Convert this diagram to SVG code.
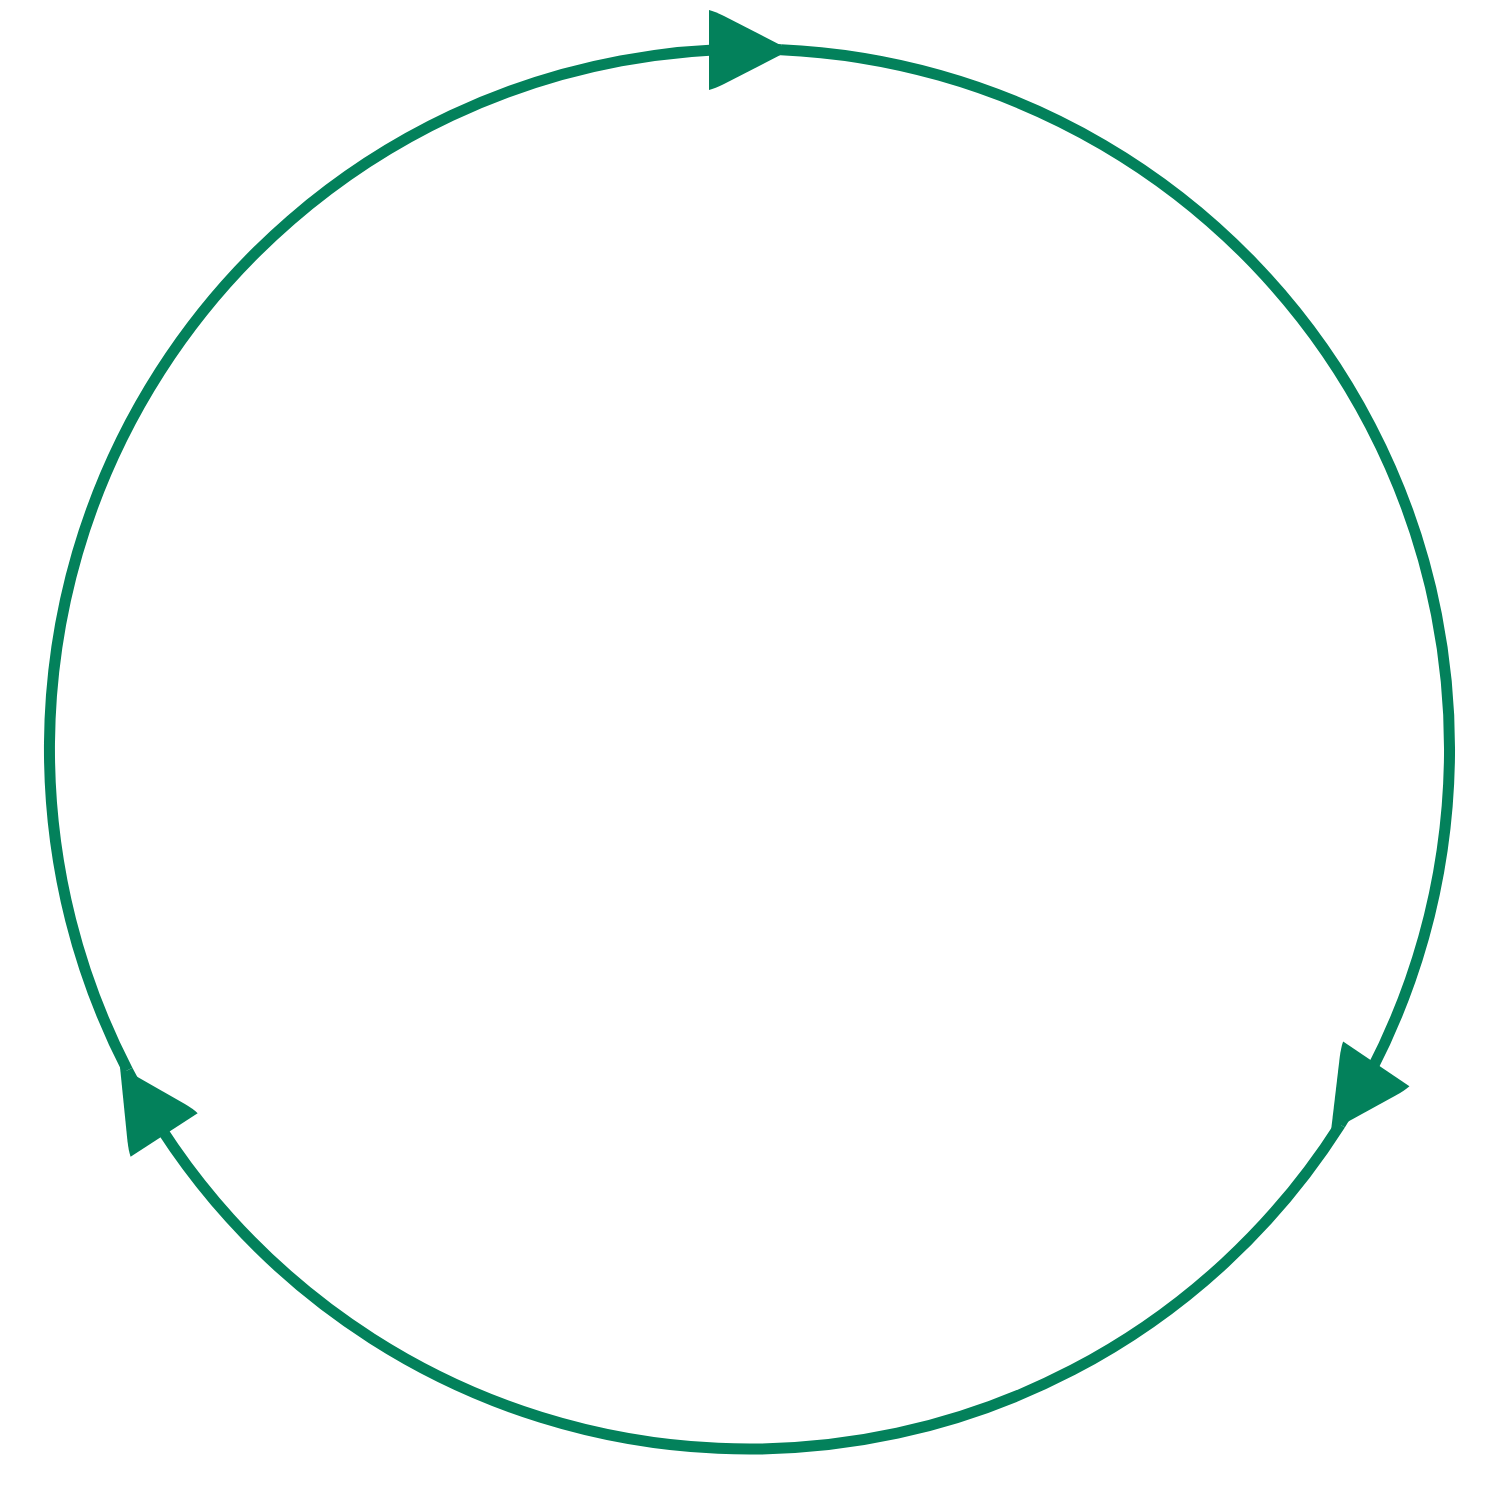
<svg xmlns="http://www.w3.org/2000/svg" xmlns:xlink="http://www.w3.org/1999/xlink" width="1500" height="1500" viewBox="0 0 1500 1500">
  <style>
    .edge { fill: none; stroke: #03815B; stroke-width: 11; }
    .head { fill: #03815B; stroke: none; }
  </style>
  <defs>
    <path id="arrowhead" class="head" d="M0,0 L-66,-34 Q-75,-38.5 -81,-40 L-81,40 Q-75,38.5 -66,34 Z"/>
  </defs>
  <rect width="1500" height="1500" fill="#ffffff"/>
  <g id="connectors">
    <path id="arc-1" class="edge" d="M127.5,1070.2 A700,700 0 0 1 781,49.7"/>
    <path id="arc-2" class="edge" d="M781,49.7 A700,700 0 0 1 1340.2,1124.6"/>
    <path id="arc-3" class="edge" d="M1340.2,1124.6 A700,700 0 0 1 127.5,1070.2"/>
    <use xlink:href="#arrowhead" href="#arrowhead" transform="translate(790,50) rotate(0)"/>
    <use xlink:href="#arrowhead" href="#arrowhead" transform="translate(1331,1131) rotate(124)"/>
    <use xlink:href="#arrowhead" href="#arrowhead" transform="translate(120,1067) rotate(-123)"/>
  </g>
</svg>
